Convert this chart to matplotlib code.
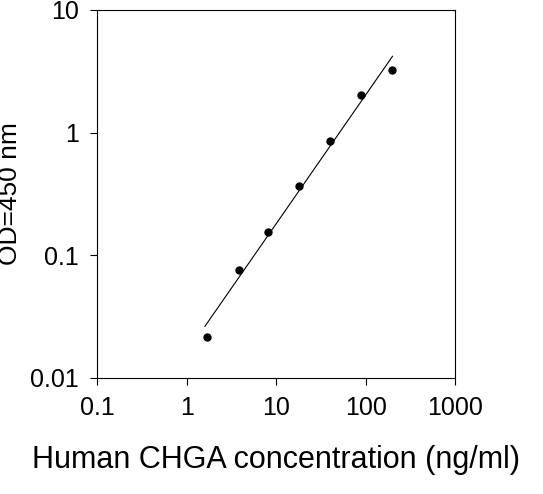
import numpy as np
import matplotlib.pyplot as plt

plt.rcParams['font.family'] = ['Liberation Sans', 'DejaVu Sans']

conc = np.array([1.7, 3.8, 8.2, 18.0, 40.0, 90.0, 198.0])
od = np.array([0.0216, 0.076, 0.155, 0.367, 0.85, 2.02, 3.24])

# power-law fit line
k, b = np.polyfit(np.log10(conc), np.log10(od), 1)
xf = np.logspace(np.log10(1.6), np.log10(200), 50)
yf = 10 ** (k * np.log10(xf) + b)

fig = plt.figure(figsize=(5.43, 4.94), dpi=100)
ax = fig.add_axes([0.179, 0.235, 0.659, 0.745])
ax.plot(xf, yf, color='black', lw=0.8)
ax.plot(conc, od, 'o', color='black', ms=5)
ax.set_xscale('log')
ax.set_yscale('log')
ax.set_xlim(0.1, 1000)
ax.set_ylim(0.01, 10)
ax.set_xticks([0.1, 1, 10, 100, 1000])
ax.set_xticklabels(['0.1', '1', '10', '100', '1000'])
ax.set_yticks([0.01, 0.1, 1, 10])
ax.set_yticklabels(['0.01', '0.1', '1', '10'])
ax.minorticks_off()
ax.tick_params(labelsize=18, length=5, pad=8)
ax.set_xlabel('Human CHGA concentration (ng/ml)', fontsize=22, labelpad=18)
ax.set_ylabel('OD=450 nm', fontsize=19, labelpad=6)
fig.savefig('out.png', dpi=100)
